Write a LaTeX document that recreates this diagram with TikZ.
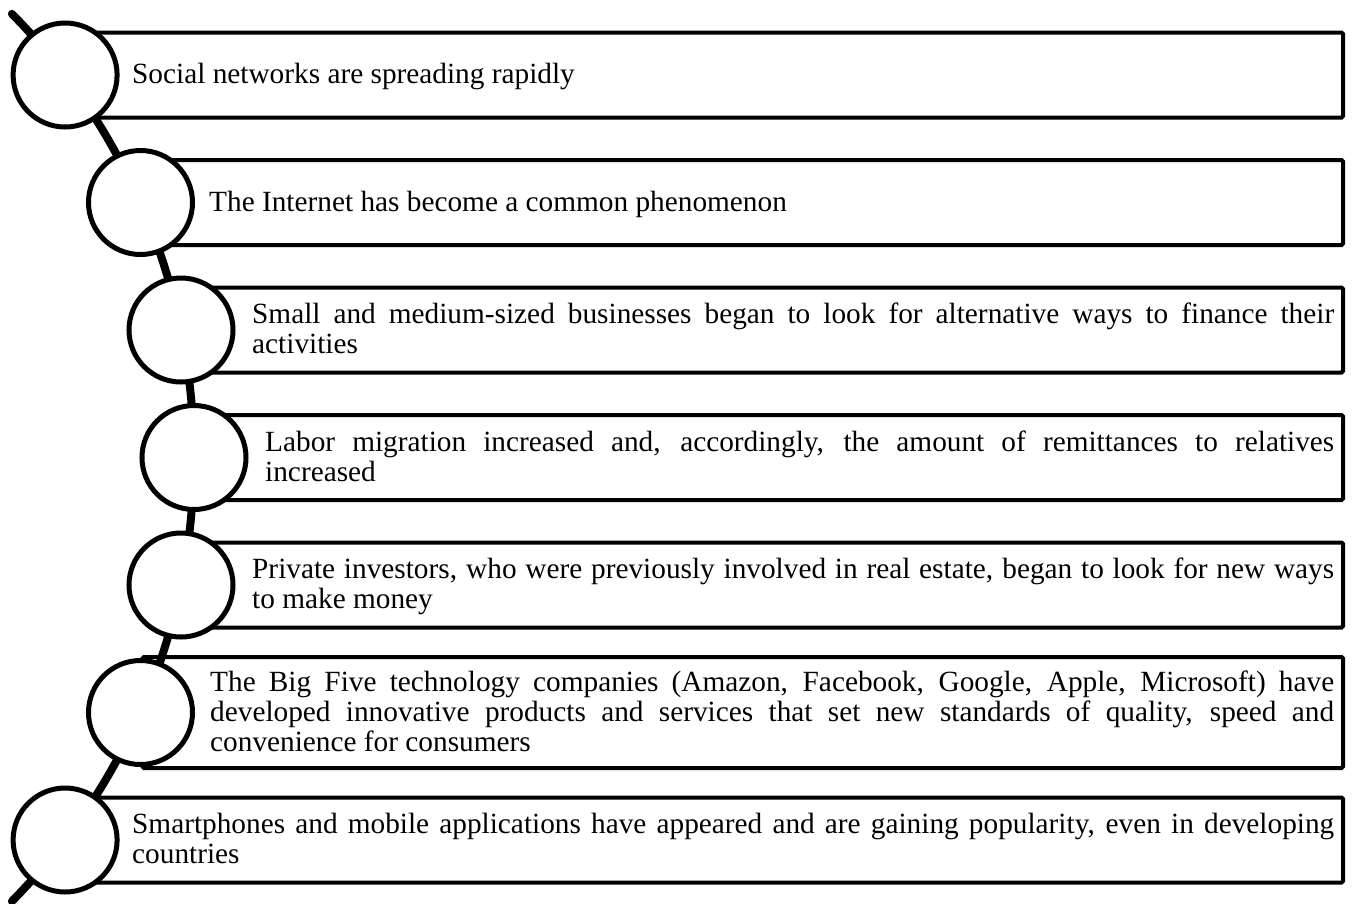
\documentclass[tikz,border=0pt]{standalone}
\usepackage{fontspec}
\setmainfont{Liberation Serif}
\hyphenpenalty=10000
\exhyphenpenalty=10000
\tolerance=9999
\emergencystretch=30pt
\newcommand\boxtxtfont{\fontsize{29.3}{30}\selectfont\fontdimen4\font=0pt\relax}
\tikzset{
  spine/.style={line width=8pt, line cap=round},
  bar/.style={draw, line width=4pt, rounded corners=1.5pt, anchor=west, inner sep=0pt, minimum height=85pt},
  dot/.style={circle, draw, line width=5pt, fill=white, minimum size=104pt, inner sep=0pt},
  txt/.style={anchor=base west, inner sep=0pt, font=\boxtxtfont}
}
\begin{document}
\begin{tikzpicture}[x=1pt,y=1pt]
\useasboundingbox[fill=white] (0,0) rectangle (1354,-903);
\coordinate (top) at (11.9,-13.8);
\draw[spine] (top) arc[start angle=44.6, end angle=-44.6, radius=632pt];

\node[bar, minimum width=1276pt] (b1) at (65.1,-75) {};
\node[bar, minimum width=1200.5pt] (b2) at (140.5,-202.5) {};
\node[bar, minimum width=1160pt] (b3) at (181,-330) {};
\node[bar, minimum width=1147pt] (b4) at (194,-457.5) {};
\node[bar, minimum width=1160pt] (b5) at (181,-585) {};
\node[bar, minimum width=1200.5pt, minimum height=111pt] (b6) at (140.5,-712.5) {};
\node[bar, minimum width=1276pt] (b7) at (65.1,-840) {};

\node[dot] (c1) at (65.1,-75) {};
\node[dot] (c2) at (140.5,-202.5) {};
\node[dot] (c3) at (181,-330) {};
\node[dot] (c4) at (194,-457.5) {};
\node[dot] (c5) at (181,-585) {};
\node[dot] (c6) at (140.5,-712.5) {};
\node[dot] (c7) at (65.1,-840) {};

\node[txt] (t1) at (132,-83.5) {\parbox[t]{1202pt}{Social networks are spreading rapidly}};
\node[txt] (t2) at (209,-211) {\parbox[t]{1125pt}{The Internet has become a common phenomenon}};
\node[txt] (t3) at (252,-323.5) {\parbox[t]{1082pt}{Small and medium-sized businesses began to look for alternative ways to finance their activities}};
\node[txt] (t4) at (265,-451) {\parbox[t]{1069pt}{Labor migration increased and, accordingly, the amount of remittances to relatives increased}};
\node[txt] (t5) at (252,-578.5) {\parbox[t]{1082pt}{Private investors, who were previously involved in real estate, began to look for new ways to make money}};
\node[txt] (t6) at (210,-691) {\parbox[t]{1124pt}{The Big Five technology companies (Amazon, Facebook, Google, Apple, Microsoft) have developed innovative products and services that set new standards of quality, speed and convenience for consumers}};
\node[txt] (t7) at (132,-833.5) {\parbox[t]{1202pt}{Smartphones and mobile applications have appeared and are gaining popularity, even in developing countries}};
\end{tikzpicture}
\end{document}
